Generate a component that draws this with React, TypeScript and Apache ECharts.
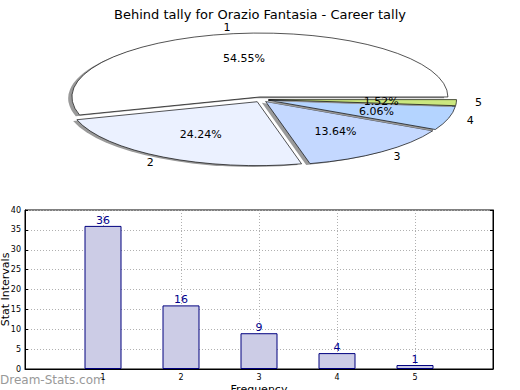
import React, { useEffect, useRef } from 'react';
import * as echarts from 'echarts';

const titleText = 'Behind tally for Orazio Fantasia - Career tally';
const pieLabels = ['1', '2', '3', '4', '5'];
const pieValues = [36, 16, 9, 4, 1];
const pieColors = ['#ffffff', '#ebf1ff', '#c4d8ff', '#b4d4ff', '#cbe77f'];
const barCategories = [1, 2, 3, 4, 5];
const barValues = [36, 16, 9, 4, 1];

const FONT = 'DejaVu Sans';

export default function App() {
  const ref = useRef<HTMLDivElement>(null);
  useEffect(() => {
    document.body.style.margin = '0';
    const chart = echarts.init(ref.current!, null, { renderer: 'svg' });
    const total = pieValues.reduce((a, b) => a + b, 0);
    const cx = 261, cy = 99.5, rx = 188, ry = 64, explode = 0.04;
    const shOff = 0.02;

    const renderPie = (params: any, api: any) => {
      const i = params.dataIndex;
      const v = api.value(1);
      let before = 0;
      for (let k = 0; k < i; k++) before += pieValues[k];
      const a1 = (before / total) * 2 * Math.PI;
      const a2 = ((before + v) / total) * 2 * Math.PI;
      const mid = (a1 + a2) / 2;
      const ox = cx + explode * rx * Math.cos(mid);
      const oy = cy - explode * ry * Math.sin(mid);
      const sector = (x: number, y: number, fill: string, stroke: string | null, z2: number) => ({
        type: 'sector',
        x,
        y,
        scaleY: ry / rx,
        z2,
        shape: { cx: 0, cy: 0, r0: 0, r: rx, startAngle: -a2, endAngle: -a1, clockwise: true },
        style: stroke
          ? { fill, stroke, lineWidth: 1, strokeNoScale: true }
          : { fill, opacity: 1 },
      });
      const lx = ox + 1.1 * rx * Math.cos(mid);
      const ly = oy - 1.1 * ry * Math.sin(mid);
      const px = ox + 0.6 * rx * Math.cos(mid);
      const py = oy - 0.6 * ry * Math.sin(mid);
      return {
        type: 'group',
        children: [
          sector(ox - shOff * rx, oy + shOff * ry, '#9a9a9a', null, i * 2),
          sector(ox, oy, pieColors[i], '#000000', i * 2 + 1),
          {
            type: 'text',
            z2: 100,
            style: {
              x: lx,
              y: ly,
              text: pieLabels[i],
              fill: '#000',
              font: '11px "DejaVu Sans"',
              align: Math.cos(mid) > 0 ? 'left' : 'right',
              verticalAlign: 'middle',
            },
          },
          {
            type: 'text',
            z2: 100,
            style: {
              x: px,
              y: py,
              text: ((v / total) * 100).toFixed(2) + '%',
              fill: '#000',
              font: '11px "DejaVu Sans"',
              align: 'center',
              verticalAlign: 'middle',
            },
          },
        ],
      };
    };

    chart.setOption({
      animation: false,
      textStyle: { fontFamily: FONT },
      title: {
        text: titleText,
        left: 'center',
        top: 3,
        textStyle: { fontSize: 13, fontWeight: 'normal', color: '#000', fontFamily: FONT },
      },
      graphic: [
        {
          type: 'text',
          left: 0,
          top: 374,
          style: { text: 'Dream-Stats.com', fill: '#999999', font: '12px "DejaVu Sans"' },
        },
      ],
      grid: {
        left: 25,
        right: 27,
        top: 210,
        bottom: 21,
        containLabel: false,
        outerBoundsMode: 'none',
        show: true,
        borderColor: '#000',
        borderWidth: 1,
        backgroundColor: 'transparent',
      },
      xAxis: {
        type: 'value',
        min: 0,
        max: 6,
        interval: 1,
        name: 'Frequency',
        nameLocation: 'middle',
        nameGap: 15,
        nameMoveOverlap: false,
        nameTextStyle: { fontSize: 11, color: '#000', fontFamily: FONT },
        axisLine: { show: true, lineStyle: { color: '#000' } },
        axisTick: { show: true, inside: true, length: 3, lineStyle: { color: '#000' } },
        axisLabel: {
          fontSize: 8,
          color: '#000',
          margin: 4,
          formatter: (v: number) => (barCategories.indexOf(v) >= 0 ? String(v) : ''),
        },
        splitLine: { show: true, lineStyle: { color: '#b0b0b0', type: [1, 2] } },
      },
      yAxis: [
        {
          type: 'value',
          min: 0,
          max: 40,
          interval: 5,
          name: 'Stat Intervals',
          nameLocation: 'middle',
          nameGap: 14,
          nameMoveOverlap: false,
          nameTextStyle: { fontSize: 11, color: '#000', fontFamily: FONT },
          axisLine: { show: true, lineStyle: { color: '#000' } },
          axisTick: { show: true, inside: true, length: 3, lineStyle: { color: '#000' } },
          axisLabel: { fontSize: 8, color: '#000', margin: 4 },
          splitLine: { show: true, lineStyle: { color: '#b0b0b0', type: [1, 2] } },
        },
        {
          type: 'value',
          position: 'right',
          min: 0,
          max: 40,
          interval: 5,
          axisLine: { show: true, lineStyle: { color: '#000' } },
          axisTick: { show: true, inside: true, length: 3, lineStyle: { color: '#000' } },
          axisLabel: { show: false },
          splitLine: { show: false },
        },
      ],
      series: [
        {
          type: 'custom',
          coordinateSystem: 'none',
          renderItem: renderPie,
          data: pieValues.map((v, i) => [i, v]),
          silent: true,
        },
        {
          type: 'bar',
          xAxisIndex: 0,
          yAxisIndex: 0,
          data: barValues.map((v, i) => [barCategories[i], v]),
          barWidth: 37,
          itemStyle: { color: '#ccccE6', borderColor: '#00007f', borderWidth: 1 },
          label: {
            show: true,
            position: 'top',
            distance: 0,
            color: '#00008b',
            fontSize: 11,
            fontFamily: FONT,
          },
        },
      ],
    });
    return () => chart.dispose();
  }, []);
  return <div ref={ref} style={{ width: 520, height: 390 }} />;
}
